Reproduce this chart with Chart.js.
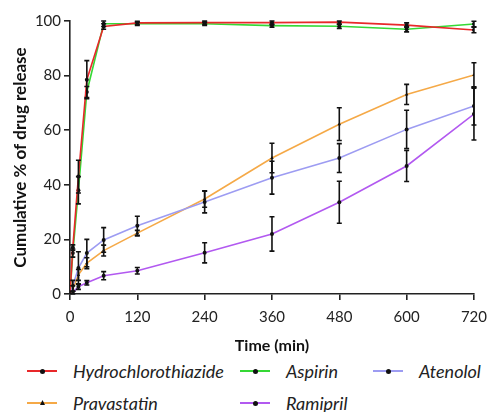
<!DOCTYPE html>
<html>
<head>
<meta charset="utf-8">
<script src="https://cdn.jsdelivr.net/npm/chart.js@4/dist/chart.umd.min.js"></script>
<style>
  body { margin: 0; background: #fff; font-family: Lato, sans-serif; }
  #wrap { position: relative; width: 495px; height: 412px; }
  #chartBox { position: absolute; left: 0; top: 0; width: 495px; height: 355px; }
  .lg { position: absolute; display: flex; align-items: center; font-style: italic; font-size: 18px; color: #222; white-space: nowrap; height: 20px; }
  .lg .sw { position: relative; width: 30px; height: 2px; margin-right: 16px; }
  .lg .sw i { position: absolute; left: 13px; top: -1.5px; width: 5px; height: 5px; border-radius: 50%; background: #111; }
  .lg .sw i.tri { border-radius: 0; clip-path: polygon(50% 0, 100% 100%, 0 100%); top: -2px; }
</style>
</head>
<body>
<div id="wrap">
  <div id="chartBox"><canvas id="releaseChart"></canvas></div>
  <div id="legend"></div>
</div>
<script>
// sampling times (min)
const times = [0, 5, 15, 30, 60, 120, 240, 360, 480, 600, 720];

// mean cumulative release (%)
const hctz        = [0, 17, 43, 78.5, 98, 99.3, 99.4, 99.4, 99.6, 98.5, 96.7];
const aspirin     = [0, 15, 38, 74, 99, 99, 99, 98.3, 98.1, 97, 98.9];
const atenolol    = [0, 3, 9.5, 15, 19.8, 25, 33.7, 42.6, 49.8, 60.3, 68.9];
const pravastatin = [0, 2, 7, 11.3, 15.9, 22.3, 34.8, 49.8, 62.2, 73.1, 80.2];
const ramipril    = [0, 0.5, 2.7, 4.1, 6.7, 8.5, 15.1, 22, 33.6, 46.9, 65.9];

// standard deviations
const hctzSd        = [0, 1, 6, 7, 1, 0.6, 0.6, 0.8, 0.8, 0.8, 1];
const aspirinSd     = [0, 1.5, 5, 2, 1, 0.6, 0.6, 0.6, 0.8, 1, 1];
const atenololSd    = [0, 2, 6, 5, 4.5, 3.5, 4, 6, 5.3, 7, 7];
const pravastatinSd = [0, 1, 2, 2, 2, 1, 3, 5.4, 6, 3.7, 4.5];
const ramiprilSd    = [0, 0.5, 1, 0.8, 1.5, 1.2, 3.7, 6.3, 7.7, 5.7, 9.5];

const yTicks = [0, 20, 40, 60, 80, 100];
const xTicks = [0, 120, 240, 360, 480, 600, 720];

const series = [
  { label: 'Hydrochlorothiazide', data: hctz, sd: hctzSd, color: '#e8282a', style: 'circle' },
  { label: 'Aspirin', data: aspirin, sd: aspirinSd, color: '#35d835', style: 'circle' },
  { label: 'Atenolol', data: atenolol, sd: atenololSd, color: '#9d9cf2', style: 'circle' },
  { label: 'Pravastatin', data: pravastatin, sd: pravastatinSd, color: '#f5a947', style: 'triangle' },
  { label: 'Ramipril', data: ramipril, sd: ramiprilSd, color: '#b259f0', style: 'circle' }
];

// vertical SD bars with caps, drawn through the chart scales
const errorBars = {
  id: 'errorBars',
  afterDatasetsDraw(chart) {
    const { ctx, scales: { x, y } } = chart;
    ctx.save();
    ctx.strokeStyle = '#111';
    ctx.lineWidth = 1.6;
    chart.data.datasets.forEach(ds => {
      ds.data.forEach(p => {
        if (!p.sd) return;
        const px = x.getPixelForValue(p.x);
        const top = y.getPixelForValue(Math.min(100, p.y + p.sd));
        const bot = y.getPixelForValue(Math.max(0, p.y - p.sd));
        ctx.beginPath();
        ctx.moveTo(px, top); ctx.lineTo(px, bot);
        ctx.moveTo(px - 2.5, top); ctx.lineTo(px + 2.5, top);
        ctx.moveTo(px - 2.5, bot); ctx.lineTo(px + 2.5, bot);
        ctx.stroke();
      });
    });
    ctx.restore();
  }
};

const tickFont = { family: 'Lato', size: 15 };

new Chart(document.getElementById('releaseChart'), {
  type: 'line',
  data: {
    datasets: series.map(s => ({
      label: s.label,
      data: times.map((t, i) => ({ x: t, y: s.data[i], sd: s.sd[i] })),
      borderColor: s.color,
      borderWidth: 1.6,
      pointStyle: s.style,
      pointRadius: 2,
      pointBorderWidth: 0,
      pointBackgroundColor: '#111',
      tension: 0,
      fill: false
    }))
  },
  options: {
    responsive: true,
    maintainAspectRatio: false,
    animation: false,
    layout: { padding: { top: 21, right: 14, left: 10, bottom: 0 } },
    plugins: { legend: { display: false }, tooltip: { enabled: false } },
    scales: {
      x: {
        type: 'linear', min: 0, max: 720,
        afterBuildTicks: sc => { sc.ticks = xTicks.map(v => ({ value: v })); },
        afterFit: sc => { sc.height = 61; },
        ticks: { font: tickFont, color: '#222', padding: 8 },
        grid: { drawOnChartArea: false, drawTicks: true, tickLength: 6, color: '#222', lineWidth: 1.6 },
        border: { display: true, color: '#222', width: 1.6 },
        title: { display: true, text: 'Time (min)', font: { family: 'Lato', size: 16, weight: 'bold' }, color: '#111', padding: { top: 4, bottom: 0 } }
      },
      y: {
        min: 0, max: 100,
        afterBuildTicks: sc => { sc.ticks = yTicks.map(v => ({ value: v })); },
        afterFit: sc => { sc.width = 60; },
        ticks: { font: tickFont, color: '#222', padding: 3 },
        grid: { drawOnChartArea: false, drawTicks: true, tickLength: 6, color: '#222', lineWidth: 1.6 },
        border: { display: true, color: '#222', width: 1.6 },
        title: { display: true, text: 'Cumulative % of drug release', font: { family: 'Lato', size: 17, weight: 'bold' }, color: '#111', padding: 0 }
      }
    }
  },
  plugins: [errorBars]
});

// legend laid out in the same columns as the figure
const legendPos = [
  { left: 27, top: 361 }, { left: 240, top: 361 }, { left: 373, top: 361 },
  { left: 27, top: 393 }, { left: 240, top: 393 }
];
document.getElementById('legend').innerHTML = series.map((s, i) => `
  <div class="lg" style="left:${legendPos[i].left}px;top:${legendPos[i].top}px">
    <span class="sw" style="background:${s.color}"><i class="${s.style === 'triangle' ? 'tri' : ''}"></i></span>${s.label}
  </div>`).join('');
</script>
</body>
</html>
